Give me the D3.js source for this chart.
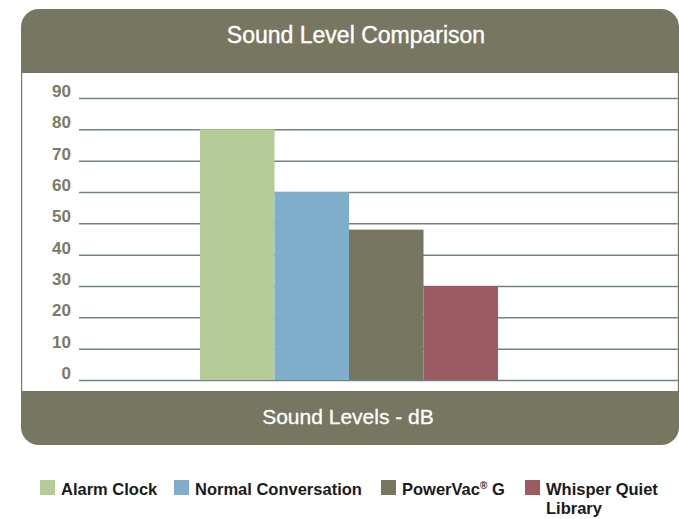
<!DOCTYPE html>
<html lang="en">
<head>
<meta charset="UTF-8">
<title>Sound Level Comparison</title>
<script src="https://d3js.org/d3.v7.min.js"></script>
<style>
  body { margin: 0; background: #fff; }
  text { font-family: "Liberation Sans", Arial, Helvetica, sans-serif; }
</style>
</head>
<body>
<div id="chart"></div>
<script>
// chart values
const categories = ["Alarm Clock", "Normal Conversation", "PowerVac® G", "Whisper Quiet Library"];
const values = [80, 60, 48, 30];
const colors = ["#b5cc97", "#7eaecb", "#777660", "#9c5a62"];
const yTicks = [0, 10, 20, 30, 40, 50, 60, 70, 80, 90];

const W = 679, H = 519;
const olive = "#777660";

const svg = d3.select("#chart").append("svg")
    .attr("width", W)
    .attr("height", H);

// panel with rounded corners
const panel = { left: 21, top: 9, right: 679, bottom: 445, r: 18 };
svg.append("rect")
    .attr("x", panel.left)
    .attr("y", panel.top)
    .attr("width", panel.right - panel.left)
    .attr("height", panel.bottom - panel.top)
    .attr("rx", panel.r)
    .attr("fill", olive);

svg.append("rect")
    .attr("x", panel.left + 1.2)
    .attr("y", 73)
    .attr("width", panel.right - panel.left - 2.4)
    .attr("height", 391 - 73)
    .attr("fill", "#fff");

// scales
const y = d3.scaleLinear()
    .domain([0, 90])
    .range([380, 98]);

const x = d3.scaleBand()
    .domain(categories)
    .range([79, 619])
    .paddingInner(0)
    .paddingOuter(1.624);

// gridlines
svg.append("g")
    .selectAll("line")
    .data(yTicks)
    .join("line")
    .attr("x1", 79)
    .attr("x2", panel.right - 1.2)
    .attr("y1", d => y(d) + 0.5)
    .attr("y2", d => y(d) + 0.5)
    .attr("stroke", "#6f8482")
    .attr("stroke-width", 1.5);

// tick labels
svg.append("g")
    .selectAll("text")
    .data(yTicks)
    .join("text")
    .attr("x", 71)
    .attr("y", d => y(d) - 1)
    .attr("text-anchor", "end")
    .attr("font-size", 17)
    .attr("font-weight", "bold")
    .attr("fill", "#7b7a66")
    .text(d => d);

// bars
svg.append("g")
    .selectAll("rect")
    .data(categories)
    .join("rect")
    .attr("x", d => x(d))
    .attr("y", (d, i) => y(values[i]))
    .attr("width", x.bandwidth())
    .attr("height", (d, i) => y(0) - y(values[i]))
    .attr("fill", (d, i) => colors[i]);

// title and axis title
svg.append("text")
    .attr("x", 356)
    .attr("y", 43)
    .attr("text-anchor", "middle")
    .attr("font-size", 23)
    .attr("fill", "#fff")
    .attr("stroke", "#fff")
    .attr("stroke-width", 0.4)
    .text("Sound Level Comparison");

svg.append("text")
    .attr("x", 348)
    .attr("y", 424)
    .attr("text-anchor", "middle")
    .attr("font-size", 21)
    .attr("fill", "#fff")
    .attr("stroke", "#fff")
    .attr("stroke-width", 0.3)
    .text("Sound Levels - dB");

// legend
const legendX = [40, 174, 381, 525];
const legend = svg.append("g")
    .selectAll("g")
    .data(categories)
    .join("g")
    .attr("transform", (d, i) => `translate(${legendX[i]},480)`);

legend.append("rect")
    .attr("width", 15)
    .attr("height", 15)
    .attr("fill", (d, i) => colors[i]);

legend.append("text")
    .attr("x", 21)
    .attr("y", 14.5)
    .attr("font-size", 16.5)
    .attr("font-weight", "bold")
    .attr("fill", "#1a1a1a")
    .each(function(d) {
        const t = d3.select(this);
        if (d === "Whisper Quiet Library") {
            t.append("tspan").attr("x", 21).text("Whisper Quiet");
            t.append("tspan").attr("x", 21).attr("dy", 19.5).text("Library");
        } else if (d === "PowerVac® G") {
            t.append("tspan").text("PowerVac");
            t.append("tspan").attr("font-size", 10).attr("dy", -6).text("®");
            t.append("tspan").attr("dy", 6).text(" G");
        } else {
            t.text(d);
        }
    });
</script>
</body>
</html>
